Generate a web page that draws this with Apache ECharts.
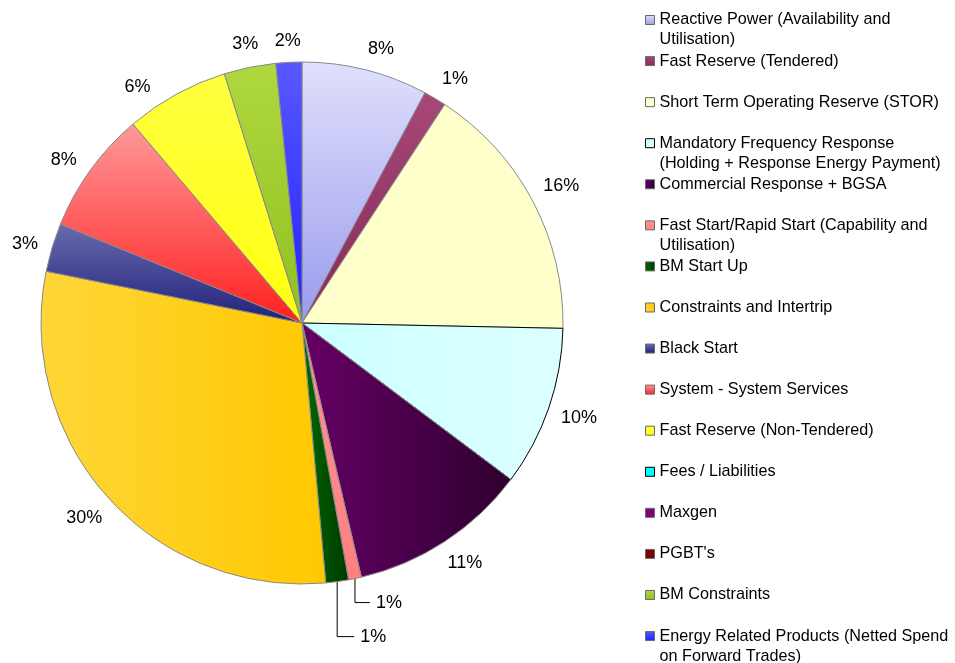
<!DOCTYPE html>
<html>
<head>
<meta charset="utf-8">
<style>
  html, body { margin: 0; padding: 0; background: #fff; }
  #chart { width: 955px; height: 663px; }
</style>
<script src="https://cdn.jsdelivr.net/npm/echarts@6.0.0/dist/echarts.min.js"></script>
</head>
<body>
<div id="chart"></div>
<script>
// categories, clockwise from 12 o'clock (same order as the legend)
const categories = [
  'Reactive Power (Availability and Utilisation)',
  'Fast Reserve (Tendered)',
  'Short Term Operating Reserve (STOR)',
  'Mandatory Frequency Response (Holding + Response Energy Payment)',
  'Commercial Response + BGSA',
  'Fast Start/Rapid Start (Capability and Utilisation)',
  'BM Start Up',
  'Constraints and Intertrip',
  'Black Start',
  'System - System Services',
  'Fast Reserve (Non-Tendered)',
  'Fees / Liabilities',
  'Maxgen',
  "PGBT's",
  'BM Constraints',
  'Energy Related Products (Netted Spend on Forward Trades)'
];

// legend text as it wraps in the reference
const legendText = [
  'Reactive Power (Availability and\nUtilisation)',
  'Fast Reserve (Tendered)',
  'Short Term Operating Reserve (STOR)',
  'Mandatory Frequency Response\n(Holding + Response Energy Payment)',
  'Commercial Response + BGSA',
  'Fast Start/Rapid Start (Capability and\nUtilisation)',
  'BM Start Up',
  'Constraints and Intertrip',
  'Black Start',
  'System - System Services',
  'Fast Reserve (Non-Tendered)',
  'Fees / Liabilities',
  'Maxgen',
  "PGBT's",
  'BM Constraints',
  'Energy Related Products (Netted Spend\non Forward Trades)'
];

// share of spend, %
const shares = [7.8, 1.4, 16.1, 9.9, 11.1, 0.8, 1.4, 29.6, 3.0, 7.6, 6.4, 0, 0, 0, 3.2, 1.6];

// fills: [top/left colour, bottom/right colour, direction]
const fills = [
  ['#e0e0fc', '#9a9aee', 'v'],
  ['#a64878', '#862a5a', 'v'],
  ['#ffffcc', '#ffffcc', 'v'],
  ['#ccffff', '#dcffff', 'h'],
  ['#660066', '#2e002e', 'h'],
  ['#ff9494', '#ff8080', 'v'],
  ['#006a00', '#003800', 'h'],
  ['#ffd638', '#ffc800', 'h'],
  ['#6a6ab0', '#202078', 'v'],
  ['#ff9999', '#ff2020', 'v'],
  ['#ffff40', '#ffff10', 'v'],
  ['#00ffff', '#00ffff', 'v'],
  ['#800080', '#800080', 'v'],
  ['#800000', '#800000', 'v'],
  ['#b0d840', '#90c020', 'v'],
  ['#5858ff', '#2020ff', 'v']
];
const blackEdged = [3, 11];

// slices whose label hangs on a leader line: drop down, then run right
const leaders = { 5: { drop: 24, run: 15 }, 6: { drop: 55, run: 17 } };
// labels that sit off their slice's mid angle (degrees)
const labelNudge = { 0: 2, 1: 1.5, 4: -1, 8: -1, 9: -1.5, 10: -6 };

const CX = 302, CY = 323, R = 261, GAP = 12;
const FONT = '"Liberation Sans", Arial, sans-serif';

const total = shares.reduce((a, b) => a + b, 0);
const midAngle = shares.map((v, i) => {
  const before = shares.slice(0, i).reduce((a, b) => a + b, 0);
  return (before + v / 2) / total * 2 * Math.PI;
});

function grad(f) {
  return {
    type: 'linear', x: 0, y: 0, x2: f[2] === 'h' ? 1 : 0, y2: f[2] === 'h' ? 0 : 1,
    colorStops: [{ offset: 0, color: f[0] }, { offset: 1, color: f[1] }]
  };
}

const pieData = categories.map((name, i) => {
  const item = {
    name: name,
    value: shares[i],
    itemStyle: {
      color: grad(fills[i]),
      borderColor: blackEdged.includes(i) ? '#000' : '#8a8a8a',
      borderWidth: shares[i] === 0 ? 0 : 1
    }
  };
  if (shares[i] === 0) {
    item.label = { show: false };
    item.labelLine = { show: false };
  }
  if (leaders[i]) {
    item.labelLine = { show: true, lineStyle: { color: '#000', width: 1 } };
  }
  return item;
});

const legends = categories.map((name, i) => {
  const twoLine = legendText[i].indexOf('\n') >= 0;
  const iconY = 20 + i * 41.07;
  return {
    orient: 'vertical',
    left: 645,
    top: iconY - (twoLine ? 30 : 10),
    padding: 0,
    itemWidth: 9,
    itemHeight: 9,
    icon: 'rect',
    selectedMode: false,
    data: [name],
    formatter: () => (twoLine ? '\n' : '') + legendText[i],
    itemStyle: { borderColor: blackEdged.includes(i) ? '#000' : '#6a6a6a', borderWidth: 1 },
    textStyle: { fontFamily: FONT, fontSize: 16.2, color: '#000', lineHeight: 20 }
  };
});

const chart = echarts.init(document.getElementById('chart'), null, { renderer: 'canvas' });
chart.setOption({
  animation: false,
  backgroundColor: '#fff',
  legend: legends,
  series: [{
    type: 'pie',
    center: [CX, CY],
    radius: [0, R],
    startAngle: 90,
    clockwise: true,
    avoidLabelOverlap: false,
    silent: true,
    label: {
      show: true,
      position: 'outside',
      fontFamily: FONT,
      fontSize: 18,
      color: '#000',
      formatter: p => Math.round(p.percent) + '%'
    },
    labelLine: { show: false },
    labelLayout: function (params) {
      const i = params.dataIndex;
      const lead = leaders[i];
      if (lead) {
        const a0 = midAngle[i];
        const x0 = CX + R * Math.sin(a0), y0 = CY - R * Math.cos(a0);
        const y1 = y0 + lead.drop, x2 = x0 + lead.run;
        return {
          x: x2 + 6, y: y1, align: 'left', verticalAlign: 'middle',
          labelLinePoints: [[x0, y0], [x0, y1], [x2, y1]]
        };
      }
      const a = midAngle[i] + (labelNudge[i] || 0) * Math.PI / 180;
      const ux = Math.sin(a), uy = -Math.cos(a);
      const w = params.labelRect.width, h = params.labelRect.height;
      const d = R + GAP + Math.abs(ux) * w / 2 + Math.abs(uy) * h / 2;
      return { x: CX + d * ux, y: CY + d * uy, align: 'center', verticalAlign: 'middle' };
    },
    data: pieData
  }]
});
</script>
</body>
</html>
